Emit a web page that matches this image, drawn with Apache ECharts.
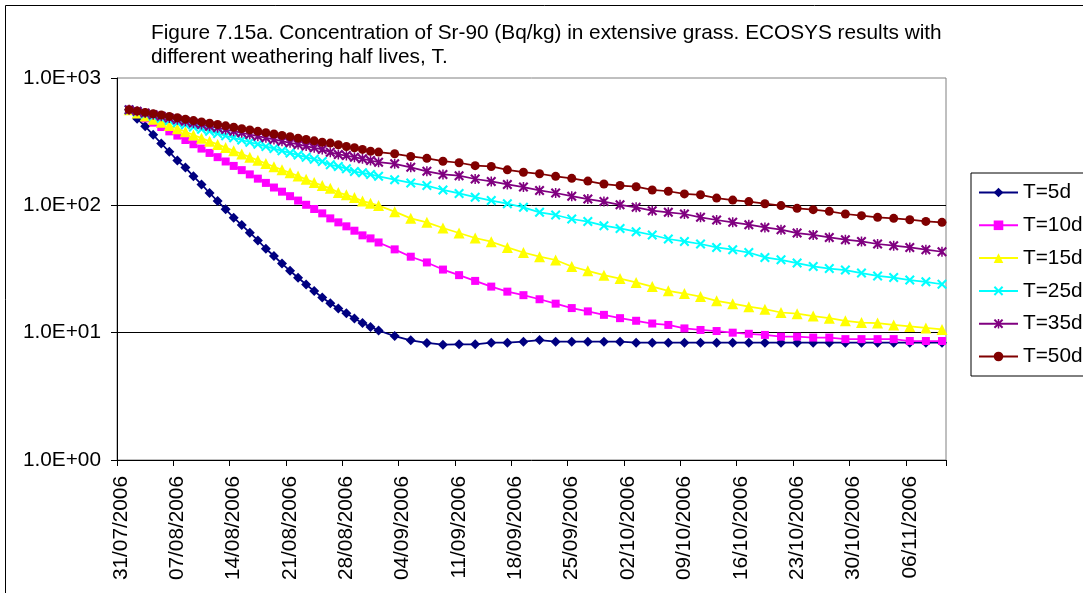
<!DOCTYPE html>
<html><head><meta charset="utf-8">
<script src="https://cdn.jsdelivr.net/npm/echarts@6/dist/echarts.min.js"></script>
<style>html,body{margin:0;padding:0;background:#fff}#c{width:1083px;height:593px}</style>
</head><body><div id="c"></div>
<script>
// ---- data ----
const startDate = [2006, 7, 31];   // first category (31/07/2006)
const dayCount = 103;              // daily categories 31/07/2006 .. 10/11/2006
const sampleDays = [1,2,3,4,5,6,7,8,9,10,11,12,13,14,15,16,17,18,19,20,21,22,23,24,25,26,27,28,29,30,31,32,
  34,36,38,40,42,44,46,48,50,52,54,56,58,60,62,64,66,68,70,72,74,76,78,80,82,84,86,88,90,92,94,96,98,100,102];
const seriesNames = ['T=5d','T=10d','T=15d','T=25d','T=35d','T=50d'];
const t5 = [564,479,417,358,306,263,225,198,169,146,125,108,93,80,70,61,53,45.6,40,34.9,30.6,27,23.9,21.2,18.9,17.0,15.5,14.2,12.9,11.9,11.1,10.4,
  9.4,8.7,8.3,8.05,8.1,8.1,8.35,8.35,8.5,8.75,8.5,8.5,8.5,8.5,8.5,8.35,8.35,8.35,8.35,8.35,8.35,8.35,8.35,8.35,8.35,8.35,8.35,8.35,8.35,8.35,8.35,8.35,8.35,8.35,8.35];
const t10 = [564,521,482,446,412,381,353,326,302,279,258,239,221,204,189,175,162,150,138,128,118,109,101,93.6,86.5,79,73.5,68.4,63.2,58.1,55,51.1,
  45.1,39.5,35.6,31.3,28.3,25.5,23,21,19.7,18.3,16.9,15.6,14.7,13.8,13.0,12.4,11.8,11.5,10.8,10.5,10.3,10.0,9.8,9.6,9.3,9.3,9.15,9.15,8.9,8.9,8.9,8.9,8.6,8.6,8.6];
const t15 = [564,532,503,475,449,424,400,378,357,337,318,301,284,268,253,239,226,213,201,190,180,170,160,151,143,136,126,121,115,108,104,99.5,
  89.2,79,73.5,66.4,60.6,55.4,51.8,46.7,42.6,39.5,37.2,33.1,30.6,28.3,26.6,24.8,23.0,21.3,20.3,19.2,17.8,16.9,16.0,15.3,14.4,14.1,13.5,13.0,12.4,12.0,11.9,11.5,11.2,10.9,10.6];
const t25 = [564,542,521,501,482,463,446,429,412,396,381,366,352,339,326,313,302,290,279,268,258,248,239,230,221,208,202,194,184,180,175,169,
  159,150,143,132,124,116,109,103,96.4,88.1,84,78.1,74.5,69.2,65.9,62.1,58.5,54.4,52.1,49.7,46.7,44.8,42.6,39,37.3,35.2,33.1,31.9,31.0,29.4,27.9,27.1,25.9,25.1,24.0];
const t35 = [564,547,531,515,500,485,471,457,444,431,418,406,394,382,371,360,349,339,329,319,310,301,292,283,275,261,251,246,239,232,225,218,
  212,199,185,175,171,161,154,146,139,131,125,118,112,107,101,96.4,90.7,88.1,85.5,80.5,76.7,73.5,70.5,67.1,64.4,60.6,58.5,56,53.7,52.1,49.7,48.2,46.7,44.8,43.2];
const t50 = [564,550,537,524,512,499,487,475,463,452,441,431,421,410,400,391,381,372,363,354,346,337,329,321,313,308,299,290,283,275,266,262,
  254,242,234,222,216,205,202,190,182,177,169,163,155,147,143,140,132,129,123,121,114,110,107,103,99.5,94.7,92.5,89.7,85.5,83,80.5,79,77.1,74.8,73.5];
const yTickLabels = ['1.0E+00','1.0E+01','1.0E+02','1.0E+03'];

// ---- build ----
function pad(n){return (n<10?'0':'')+n;}
const categories = [];
for (let i = 0; i < dayCount; i++) {
  const d = new Date(Date.UTC(startDate[0], startDate[1]-1, startDate[2] + i));
  categories.push(pad(d.getUTCDate()) + '/' + pad(d.getUTCMonth()+1) + '/' + d.getUTCFullYear());
}
function toSeriesData(vals){
  const arr = new Array(dayCount).fill(null);
  sampleDays.forEach((d, k) => { arr[d] = vals[k]; });
  return arr;
}
const X_PATH = 'path://M0,1.5 L1.5,0 L5,3.5 L8.5,0 L10,1.5 L6.5,5 L10,8.5 L8.5,10 L5,6.5 L1.5,10 L0,8.5 L3.5,5 Z';
const STAR_PATH = X_PATH + ' M4.25,0 L5.75,0 L5.75,10 L4.25,10 Z';
const styles = [
  {color:'#000080', symbol:'diamond', size:10},
  {color:'#FF00FF', symbol:'rect', size:8},
  {color:'#FFFF00', symbol:'triangle', size:11},
  {color:'#00FFFF', symbol:X_PATH, size:10},
  {color:'#800080', symbol:STAR_PATH, size:10},
  {color:'#800000', symbol:'circle', size:9}
];
const allVals = [t5, t10, t15, t25, t35, t50];
const series = allVals.map((v, i) => ({
  name: seriesNames[i],
  type: 'line',
  data: toSeriesData(v),
  connectNulls: true,
  symbol: styles[i].symbol,
  symbolSize: styles[i].size,
  showAllSymbol: true,
  lineStyle: {color: styles[i].color, width: 1.75},
  itemStyle: {color: styles[i].color, borderWidth: 0},
  emphasis: {disabled: true},
  z: 2 + i
}));

const FONT = 'Liberation Sans, Arial, sans-serif';
const FS = 20.8;
const chart = echarts.init(document.getElementById('c'), null, {renderer: 'canvas'});
chart.setOption({
  animation: false,
  backgroundColor: '#fff',
  title: {
    text: 'Figure 7.15a. Concentration of Sr-90 (Bq/kg) in extensive grass. ECOSYS results with\ndifferent weathering half lives, T.',
    left: 151, top: 21, padding: 0,
    textStyle: {fontFamily: FONT, fontSize: FS, fontWeight: 'normal', color: '#000', lineHeight: 24}
  },
  legend: {
    orient: 'vertical', left: 971, top: 173,
    padding: [9, 6, 9, 7],
    itemWidth: 39, itemHeight: 12, itemGap: 11.8,
    borderColor: '#000', borderWidth: 1,
    textStyle: {fontFamily: FONT, fontSize: FS, color: '#000', lineHeight: 20},
    data: seriesNames
  },
  grid: {left: 117, right: 137, top: 78, bottom: 133, show: true, borderColor: '#808080', borderWidth: 1, containLabel: false},
  xAxis: {
    type: 'category', data: categories, boundaryGap: true,
    axisLine: {lineStyle: {color: '#000', width: 1}},
    axisTick: {show: true, interval: 6, length: 6, lineStyle: {color: '#000'}},
    axisLabel: {interval: 6, rotate: 90, margin: 16, fontFamily: FONT, fontSize: FS, color: '#000'},
    splitLine: {show: false}
  },
  yAxis: {
    type: 'log', logBase: 10, min: 1, max: 1000,
    axisLine: {show: true, lineStyle: {color: '#000', width: 1}},
    axisTick: {show: true, length: 6, lineStyle: {color: '#000'}},
    axisLabel: {margin: 16, fontFamily: FONT, fontSize: FS, color: '#000',
      formatter: v => yTickLabels[Math.round(Math.log10(v))]},
    splitLine: {show: true, showMinLine: false, showMaxLine: false, lineStyle: {color: '#000', width: 1}},
    minorTick: {show: false}, minorSplitLine: {show: false}
  },
  graphic: [{type: 'rect', silent: true, shape: {x: 5.5, y: 5.5, width: 1200, height: 800},
    style: {fill: 'none', stroke: '#000', lineWidth: 1}}],
  series: series
});
</script></body></html>
